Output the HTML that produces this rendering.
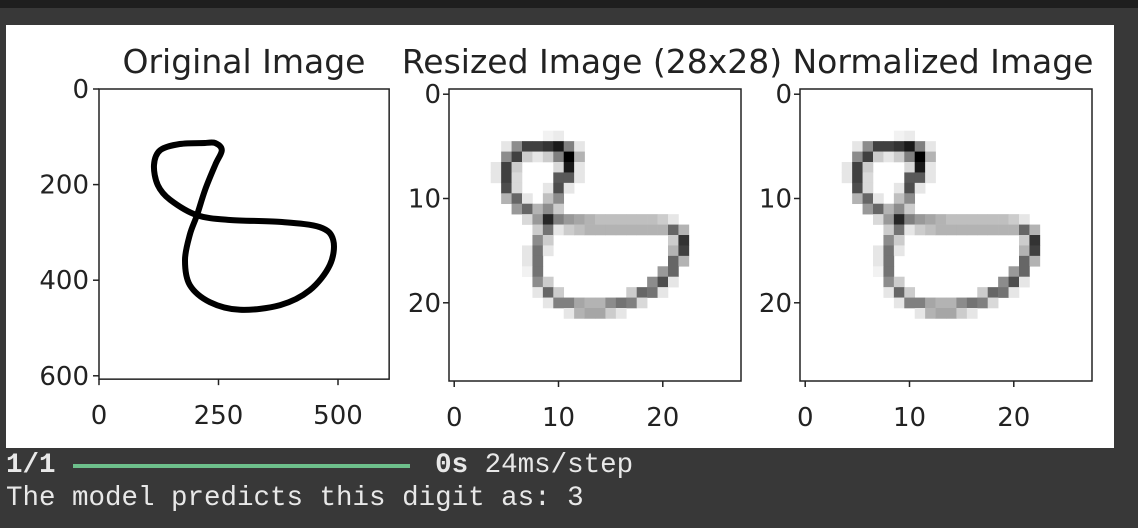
<!DOCTYPE html>
<html><head><meta charset="utf-8"><style>
body{margin:0;width:1138px;height:528px;background:#383838;overflow:hidden;position:relative;font-family:"DejaVu Sans","Liberation Sans",sans-serif}
.top{position:absolute;left:0;top:0;width:1138px;height:8px;background:#1e1e1e}
.fig{position:absolute;left:6px;top:25px;width:1108px;height:423px;background:#fff}
.out{position:absolute;left:6px;font-family:"Liberation Mono",monospace;font-size:27.5px;color:#e8e8e8;white-space:pre;line-height:32px}
</style></head><body>
<div class="top"></div>
<div class="fig"></div>
<svg id="chart" width="1138" height="528" style="position:absolute;left:0;top:0"></svg>
<div class="out" style="top:450px"><b>1/1</b>                       <b>0s</b> 24ms/step</div>
<div style="position:absolute;left:73px;top:464px;width:337px;height:4px;background:#6dbf8b"></div>
<div class="out" style="top:483px">The model predicts this digit as: 3</div>
<script>
const origX=[222,169,128,115,123,149,205,274,379,462,490,483,441,379,295,232,190,180,190,205,222,243,257,243,222];
const origY=[113,115,128,159,201,232,264,274,278,289,316,368,421,452,462,446,410,358,305,264,211,159,128,113,113];
const origTicksX=[0,250,500];
const origTicksY=[0,200,400,600];
const smallTicks=[0,10,20];
const pixRows=[
[[9,0.05],[10,0.08]],
[[5,0.1],[6,0.45],[7,0.75],[8,0.75],[9,0.8],[10,0.9],[11,0.5],[12,0.1]],
[[5,0.45],[6,0.75],[7,0.2],[8,0.1],[9,0.2],[10,0.5],[11,1.0],[12,0.3]],
[[4,0.1],[5,0.75],[6,0.2],[10,0.15],[11,0.9],[12,0.1]],
[[4,0.1],[5,0.75],[6,0.15],[10,0.65],[11,0.65],[12,0.1]],
[[5,0.7],[6,0.15],[9,0.1],[10,0.7],[11,0.1]],
[[5,0.3],[6,0.6],[7,0.1],[9,0.25],[10,0.45]],
[[6,0.4],[7,0.6],[8,0.3],[9,0.45],[10,0.2]],
[[7,0.15],[8,0.4],[9,0.85],[10,0.5],[11,0.4],[12,0.35],[13,0.3],[14,0.25],[15,0.25],[16,0.25],[17,0.25],[18,0.25],[19,0.25],[20,0.2],[21,0.1]],
[[8,0.2],[9,0.55],[10,0.1],[11,0.2],[12,0.25],[13,0.3],[14,0.3],[15,0.3],[16,0.3],[17,0.3],[18,0.3],[19,0.3],[20,0.3],[21,0.6],[22,0.3]],
[[8,0.45],[9,0.2],[21,0.2],[22,0.8]],
[[7,0.1],[8,0.55],[9,0.1],[21,0.3],[22,0.75]],
[[7,0.1],[8,0.55],[21,0.6],[22,0.3]],
[[7,0.05],[8,0.55],[20,0.4],[21,0.6]],
[[8,0.45],[9,0.2],[19,0.45],[20,0.7],[21,0.1]],
[[8,0.1],[9,0.6],[10,0.2],[17,0.2],[18,0.6],[19,0.55],[20,0.1]],
[[9,0.1],[10,0.5],[11,0.5],[12,0.35],[13,0.3],[14,0.3],[15,0.45],[16,0.55],[17,0.5],[18,0.15]],
[[11,0.1],[12,0.3],[13,0.35],[14,0.35],[15,0.2],[16,0.1]]
];
const pixRowStart=4;
const titles=["Original Image","Resized Image (28x28)","Normalized Image"];

const svg=document.getElementById('chart');
const NS='http://www.w3.org/2000/svg';
function mk(t,a,p){const e=document.createElementNS(NS,t);for(const k in a)e.setAttribute(k,a[k]);(p||svg).appendChild(e);return e;}
function txt(x,y,s,size,anchor,name,g){const e=mk('text',{x:x,y:y,'font-size':size,'text-anchor':anchor,fill:'#222','font-family':'DejaVu Sans, Liberation Sans, sans-serif'},g);e.textContent=s;

return e;}

const oL=99,oT=89,oS=0.478,oW=607;
const ox=v=>oL+v*oS, oy=v=>oT+v*oS;
const g0=mk('g',{});


const P=origX.map((v,i)=>[ox(v),oy(origY[i])]);
let d='M'+P[0][0].toFixed(1)+' '+P[0][1].toFixed(1);
for(let i=0;i<P.length-1;i++){
  const p0=P[Math.max(i-1,0)],p1=P[i],p2=P[i+1],p3=P[Math.min(i+2,P.length-1)];
  const c1=[p1[0]+(p2[0]-p0[0])/6,p1[1]+(p2[1]-p0[1])/6],c2=[p2[0]-(p3[0]-p1[0])/6,p2[1]-(p3[1]-p1[1])/6];
  d+=`C${c1[0].toFixed(1)} ${c1[1].toFixed(1)} ${c2[0].toFixed(1)} ${c2[1].toFixed(1)} ${p2[0].toFixed(1)} ${p2[1].toFixed(1)}`;
}
const pth=mk('path',{d:d,fill:'none',stroke:'#000','stroke-width':6,'stroke-linejoin':'round','stroke-linecap':'round'},g0);


const fr0=mk('rect',{x:oL,y:oT,width:oW*oS,height:oW*oS,fill:'none',stroke:'#222','stroke-width':1.5},g0);


origTicksX.forEach(v=>{mk('line',{x1:ox(v),x2:ox(v),y1:oT+oW*oS,y2:oT+oW*oS+6,stroke:'#222','stroke-width':1.5},g0);txt(ox(v),oT+oW*oS+45,String(v),26,'middle','x-tick-label',g0);});
origTicksY.forEach(v=>{mk('line',{x1:oL-6,x2:oL,y1:oy(v),y2:oy(v),stroke:'#222','stroke-width':1.5},g0);txt(oL-10,oy(v)+9,String(v),26,'end','y-tick-label',g0);});
txt(244,73,titles[0],33,'middle','title-original');

const panels=[{L:449,name:'resized',cx:592},{L:800,name:'normalized',cx:943}];
const T=89,S=292,px=S/28;
panels.forEach((p,pi)=>{
  const sx=c=>p.L+(c+0.5)*px, sy=r=>T+(r+0.5)*px;
  const g=mk('g',{});
  
  
  pixRows.forEach((row,ri)=>{row.forEach(([c,v])=>{
    const sh=Math.round(255*(1-v));
    const r=mk('rect',{x:(sx(c)-px/2).toFixed(2),y:(sy(ri+pixRowStart)-px/2).toFixed(2),width:(px+0.3).toFixed(2),height:(px+0.3).toFixed(2),fill:`rgb(${sh},${sh},${sh})`},g);
    
    
  });});
  const fr=mk('rect',{x:p.L,y:T,width:S,height:S,fill:'none',stroke:'#222','stroke-width':1.5},g);
  
  
  smallTicks.forEach(v=>{
    mk('line',{x1:sx(v),x2:sx(v),y1:T+S,y2:T+S+6,stroke:'#222','stroke-width':1.5},g);
    txt(sx(v),T+S+45,String(v),26,'middle','x-tick-label',g);
    mk('line',{x1:p.L-6,x2:p.L,y1:sy(v),y2:sy(v),stroke:'#222','stroke-width':1.5},g);
    txt(p.L-8,sy(v)+9,String(v),26,'end','y-tick-label',g);
  });
  txt(p.cx,73,titles[pi+1],33,'middle','title-'+p.name);
});
</script>
</body></html>
